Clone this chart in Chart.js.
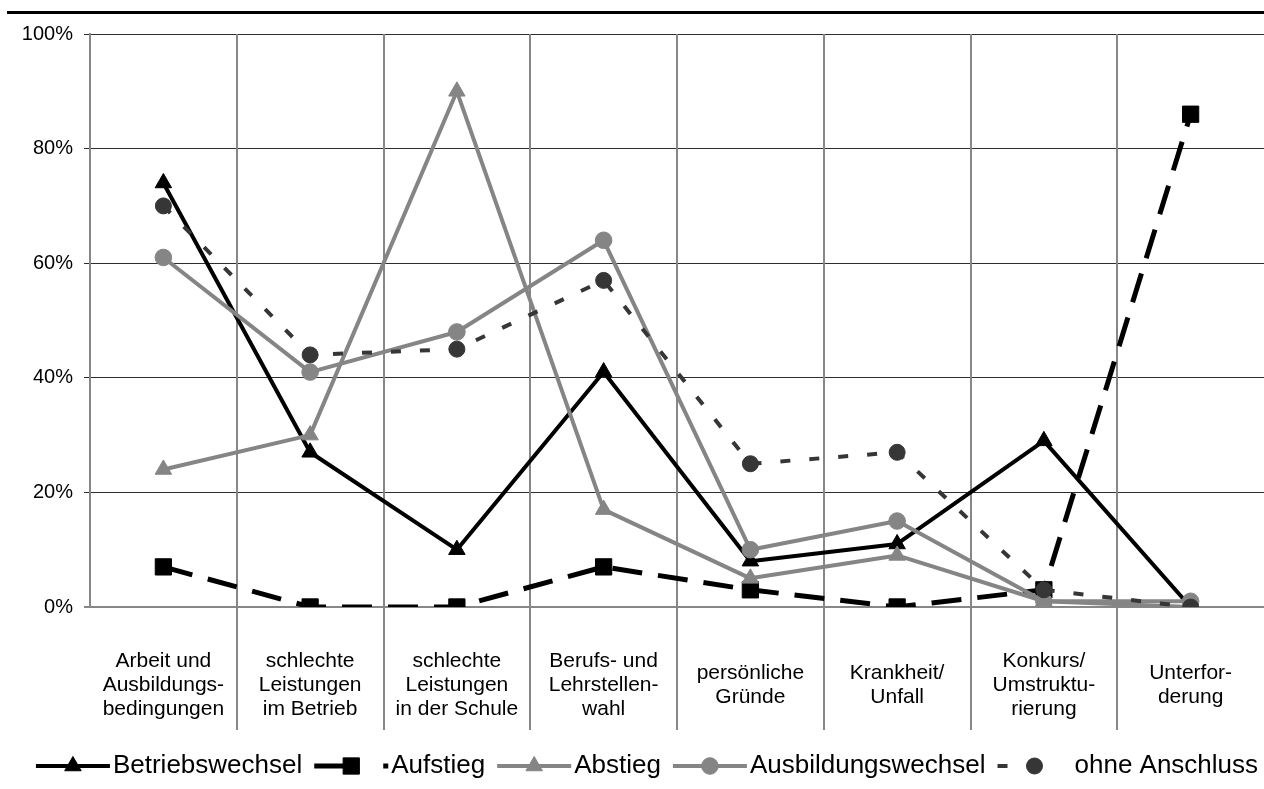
<!DOCTYPE html>
<html>
<head>
<meta charset="utf-8">
<script src="https://cdn.jsdelivr.net/npm/chart.js@4.4.1/dist/chart.umd.min.js"></script>
<style>
  html, body { margin: 0; padding: 0; background: #fff; overflow: hidden; }
  #wrap { position: relative; width: 1264px; height: 789px; }
</style>
</head>
<body>
<div id="wrap"><canvas id="c" width="1264" height="789"></canvas></div>
<script>
// Reasons for ending an apprenticeship, by follow-up outcome (share in %)
const categories = [
  ['Arbeit und', 'Ausbildungs-', 'bedingungen'],
  ['schlechte', 'Leistungen', 'im Betrieb'],
  ['schlechte', 'Leistungen', 'in der Schule'],
  ['Berufs- und', 'Lehrstellen-', 'wahl'],
  ['persönliche', 'Gründe'],
  ['Krankheit/', 'Unfall'],
  ['Konkurs/', 'Umstruktu-', 'rierung'],
  ['Unterfor-', 'derung']
];
const seriesNames = ['Betriebswechsel', 'Aufstieg', 'Abstieg', 'Ausbildungswechsel', 'ohne Anschluss'];
const betriebswechsel    = [74, 27, 10, 41, 8, 11, 29, 0];
const aufstieg           = [7, 0, 0, 7, 3, 0, 3, 86];
const abstieg            = [24, 30, 90, 17, 5, 9, 1, 0];
const ausbildungswechsel = [61, 41, 48, 64, 10, 15, 1, 1];
const ohneAnschluss      = [70, 44, 45, 57, 25, 27, 3, 0];
const yTickValues = [0, 20, 40, 60, 80, 100];

const FONT = "'Liberation Sans', Arial, Helvetica, sans-serif";
const GRAY = '#858585';
const DARK = '#363636';
const AXIS_GRAY = '#878787';

function series(name, values, color, width, dash, legendDash, style, radius, order) {
  return {
    label: name,
    data: values,
    borderColor: color,
    backgroundColor: color,
    borderWidth: width,
    borderDash: dash,
    legendDash: legendDash,
    borderCapStyle: 'butt',
    borderJoinStyle: 'round',
    pointStyle: style,
    pointRadius: radius,
    pointBackgroundColor: color,
    pointBorderColor: color,
    pointBorderWidth: 1,
    tension: 0,
    fill: false,
    order: order
  };
}

const datasets = [
  series(seriesNames[0], betriebswechsel, '#000000', 4, [], [], 'triangle', 9.5, 4),
  series(seriesNames[1], aufstieg, '#000000', 5, [30, 16], [30, 39, 5, 100], 'rect', 11.5, 3),
  series(seriesNames[2], abstieg, GRAY, 4, [], [], 'triangle', 9.5, 2),
  series(seriesNames[3], ausbildungswechsel, GRAY, 4, [], [], 'circle', 8.3, 1),
  series(seriesNames[4], ohneAnschluss, DARK, 4, [10, 19], [10, 100], 'circle', 8, 0)
];

// Rule at the top, category separators, multi-line category labels and legend
const decorations = {
  id: 'decorations',
  beforeDraw(chart) {
    const ctx = chart.ctx;
    ctx.save();
    ctx.fillStyle = '#ffffff';
    ctx.fillRect(0, 0, chart.width, chart.height);
    ctx.fillStyle = '#000000';
    ctx.fillRect(7, 11, chart.width - 7, 3);
    ctx.restore();
  },
  beforeDatasetsDraw(chart) {
    const ctx = chart.ctx;
    const xs = chart.scales.x;
    const area = chart.chartArea;
    const step = xs.width / categories.length;
    ctx.save();
    ctx.strokeStyle = AXIS_GRAY;
    ctx.lineWidth = 2;
    for (let i = 0; i < categories.length - 1; i++) {
      const x = Math.round(xs.getPixelForValue(i) + step / 2);
      ctx.beginPath();
      ctx.moveTo(x, area.top);
      ctx.lineTo(x, area.bottom + 123);
      ctx.stroke();
    }
    ctx.restore();
  },
  afterDraw(chart) {
    const ctx = chart.ctx;
    const xs = chart.scales.x;
    const area = chart.chartArea;
    ctx.save();
    // category labels, vertically centred
    ctx.fillStyle = '#000';
    ctx.font = '21px ' + FONT;
    ctx.textAlign = 'center';
    ctx.textBaseline = 'middle';
    const lh = 24;
    const cy = area.bottom + 78;
    categories.forEach((lines, i) => {
      const x = xs.getPixelForValue(i);
      const y0 = cy - (lines.length - 1) * lh / 2;
      lines.forEach((t, k) => ctx.fillText(t, x, y0 + k * lh));
    });

    // legend
    ctx.font = '26px ' + FONT;
    ctx.textAlign = 'left';
    const sampleW = 74, textGap = 3, itemGap = 12, ly = 766;
    const items = chart.data.datasets.map(ds => ({ ds, w: ctx.measureText(ds.label).width }));
    const total = items.reduce((s, it) => s + sampleW + textGap + it.w, 0) + itemGap * (items.length - 1);
    let x = 647 - total / 2;
    items.forEach(({ ds, w }) => {
      ctx.save();
      ctx.strokeStyle = ds.borderColor;
      ctx.lineWidth = ds.borderWidth;
      ctx.lineCap = 'butt';
      ctx.setLineDash(ds.legendDash || []);
      ctx.beginPath();
      ctx.moveTo(x, ly);
      ctx.lineTo(x + sampleW, ly);
      ctx.stroke();
      ctx.restore();
      ctx.save();
      ctx.fillStyle = ds.pointBackgroundColor;
      ctx.strokeStyle = ds.pointBorderColor;
      ctx.lineWidth = 1;
      Chart.helpers.drawPoint(ctx, { pointStyle: ds.pointStyle, radius: ds.pointRadius, borderWidth: 1, rotation: 0 }, x + sampleW / 2, ly);
      ctx.restore();
      ctx.fillStyle = '#000';
      ctx.textBaseline = 'middle';
      ctx.fillText(ds.label, x + sampleW + textGap, ly);
      x += sampleW + textGap + w + itemGap;
    });
    ctx.restore();
  }
};

new Chart(document.getElementById('c'), {
  type: 'line',
  data: { labels: categories.map(c => c.join(' ')), datasets },
  options: {
    responsive: false,
    animation: false,
    events: [],
    layout: { autoPadding: false, padding: { top: 34, left: 0, right: 0, bottom: 0 } },
    plugins: { legend: { display: false }, tooltip: { enabled: false }, title: { display: false } },
    scales: {
      x: {
        type: 'category',
        offset: true,
        grid: { display: false },
        border: { display: false },
        ticks: { display: false },
        afterFit(scale) { scale.height = 182; }
      },
      y: {
        min: 0,
        max: 100,
        afterFit(scale) { scale.width = 90; },
        afterBuildTicks(scale) { scale.ticks = yTickValues.map(v => ({ value: v })); },
        ticks: {
          color: '#000',
          font: { family: FONT, size: 20 },
          padding: 11,
          callback: v => v + '%'
        },
        grid: {
          color: c => (c.tick && c.tick.value === 0) ? AXIS_GRAY : '#2e2e2e',
          lineWidth: c => (c.tick && c.tick.value === 0) ? 2 : 1,
          tickLength: 6,
          drawTicks: true
        },
        border: { color: AXIS_GRAY, width: 2 }
      }
    }
  },
  plugins: [decorations]
});
</script>
</body>
</html>
